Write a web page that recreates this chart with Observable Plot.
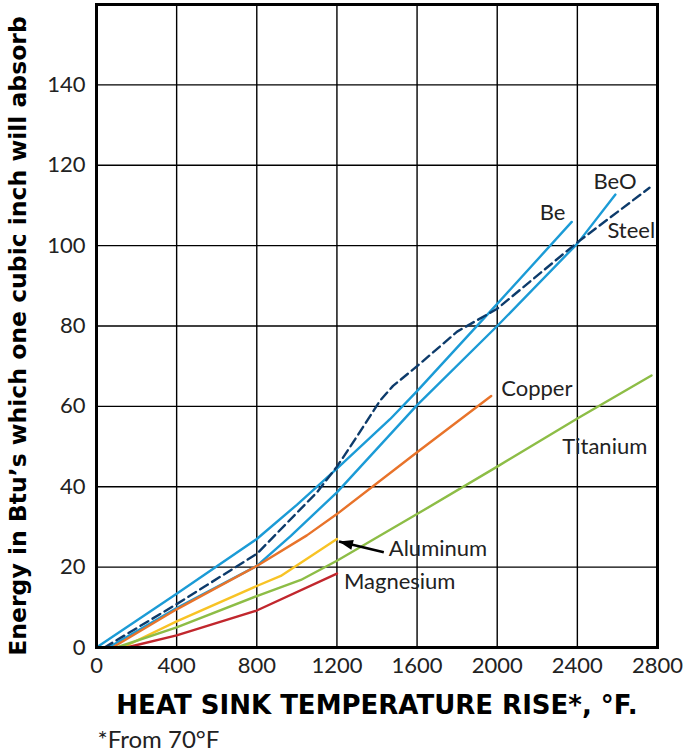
<!DOCTYPE html>
<html>
<head>
<meta charset="utf-8">
<script src="https://cdn.jsdelivr.net/npm/d3@7"></script>
<script src="https://cdn.jsdelivr.net/npm/@observablehq/plot@0.6"></script>
<style>
  body { margin: 0; background: #fff; }
  #chart svg { display: block; }
</style>
</head>
<body>
<div id="chart"></div>
<script>
// Temperature rise (°F) and energy absorbed (Btu per cubic inch) for each heat-sink material
const beRise = [0, 400, 800, 1000, 1200, 1465, 1600, 2000, 2372];
const beEnergy = [0, 13.4, 27, 35.5, 44.5, 56.8, 63.8, 85.5, 105.9];

const beoRise = [60, 400, 800, 970, 1200, 1600, 2000, 2400, 2590];
const beoEnergy = [0, 9.8, 20.3, 27.8, 38.6, 60.3, 80, 100.5, 112.7];

const steelRise = [40, 400, 800, 1100, 1200, 1300, 1415, 1480, 1600, 1800, 2000, 2400, 2760];
const steelEnergy = [0, 10.8, 23.3, 38.6, 45, 52.5, 61.4, 65.1, 70, 78.6, 84.3, 100.8, 114.4];

const copperRise = [80, 400, 800, 1050, 1200, 1600, 1970];
const copperEnergy = [0, 9.5, 20.3, 27.9, 33.2, 48.6, 62.6];

const aluminumRise = [130, 400, 800, 920, 1200];
const aluminumEnergy = [0, 6.5, 15.3, 17.8, 27];

const titaniumRise = [100, 400, 800, 1020, 1200, 1600, 2000, 2400, 2770];
const titaniumEnergy = [0, 5, 12.8, 16.8, 21.6, 33.2, 45, 57, 67.7];

const magnesiumRise = [150, 400, 800, 1200];
const magnesiumEnergy = [0, 3, 9.2, 18.4];

const xTicks = [0, 400, 800, 1200, 1600, 2000, 2400, 2800];
const yTicks = [0, 20, 40, 60, 80, 100, 120, 140];

// Series table built from the arrays above
const series = [
  {name: "Be", rise: beRise, energy: beEnergy, color: "#1b9bd6"},
  {name: "BeO", rise: beoRise, energy: beoEnergy, color: "#1b9bd6"},
  {name: "Steel", rise: steelRise, energy: steelEnergy, color: "#0d3b6b"},
  {name: "Copper", rise: copperRise, energy: copperEnergy, color: "#e8732a"},
  {name: "Aluminum", rise: aluminumRise, energy: aluminumEnergy, color: "#f8c325"},
  {name: "Titanium", rise: titaniumRise, energy: titaniumEnergy, color: "#8dbd46"},
  {name: "Magnesium", rise: magnesiumRise, energy: magnesiumEnergy, color: "#c1272d"}
];
const rows = series.flatMap(s => s.rise.map((t, i) => ({material: s.name, t, e: s.energy[i], color: s.color})));

// Curve labels, anchored at their left edge in data units
const labels = [
  {text: "BeO", t: 2480, e: 115.8},
  {text: "Be", t: 2212, e: 108.1},
  {text: "Steel", t: 2550, e: 103.6},
  {text: "Copper", t: 2020, e: 64.4},
  {text: "Titanium", t: 2325, e: 50.0},
  {text: "Aluminum", t: 1459, e: 24.6},
  {text: "Magnesium", t: 1235, e: 16.2}
];

// Pointer from the Aluminum label to the end of its curve
const pointer = [{t1: 1434, e1: 23.7, t2: 1210, e2: 26.4}];

// Narrow filled arrowhead whose tip sits at the symbol origin
const arrowHead = {
  draw(context, size) {
    const r = Math.sqrt(size / Math.PI);
    context.moveTo(0, 0);
    context.lineTo(-0.72 * r, 2 * r);
    context.lineTo(0.72 * r, 2 * r);
    context.closePath();
  }
};

const plain = d => String(d);

const chart = Plot.plot({
  width: 684,
  height: 754,
  marginLeft: 96,
  marginRight: 27,
  marginTop: 4,
  marginBottom: 107,
  style: {fontFamily: "Lato, sans-serif", fontSize: "22px", color: "#222", background: "#fff"},
  x: {domain: [0, 2800]},
  y: {domain: [0, 160]},
  marks: [
    Plot.gridX(xTicks, {stroke: "#000", strokeOpacity: 1, strokeWidth: 1.4}),
    Plot.gridY(yTicks, {stroke: "#000", strokeOpacity: 1, strokeWidth: 1.4}),
    Plot.line(rows.filter(d => d.material !== "Steel"), {
      x: "t", y: "e", z: "material", stroke: d => d.color, strokeWidth: 2.4
    }),
    Plot.line(rows.filter(d => d.material === "Steel"), {
      x: "t", y: "e", stroke: d => d.color, strokeWidth: 2.4, strokeDasharray: "9,5"
    }),
    Plot.frame({stroke: "#000", strokeWidth: 3}),
    Plot.axisX(xTicks, {tickSize: 0, tickPadding: 10, label: null, fill: "#222", tickFormat: plain}),
    Plot.axisY(yTicks, {tickSize: 0, tickPadding: 11, label: null, fill: "#222", tickFormat: plain}),
    Plot.text(labels, {
      x: "t", y: "e", text: "text", textAnchor: "start", lineAnchor: "middle",
      fontSize: 22, fill: "#222"
    }),
    Plot.link(pointer, {x1: "t1", y1: "e1", x2: "t2", y2: "e2", stroke: "#000", strokeWidth: 2.6}),
    Plot.dot(pointer, {x: "t2", y: "e2", r: 7, symbol: arrowHead, fill: "#000", stroke: null, rotate: -76}),
    Plot.text(["HEAT SINK TEMPERATURE RISE*, °F."], {
      frameAnchor: "bottom", textAnchor: "middle", dy: 66, fontFamily: "DejaVu Sans",
      fontWeight: "bold", fontSize: 26, fill: "#000"
    }),
    Plot.text(["*From 70°F"], {
      frameAnchor: "bottom-left", dy: 100, dx: 1, textAnchor: "start", fontSize: 24, fill: "#222"
    }),
    Plot.text(["Energy in Btu’s which one cubic inch will absorb"], {
      frameAnchor: "left", textAnchor: "middle", dx: -78, dy: 10, rotate: -90,
      fontFamily: "DejaVu Sans", fontWeight: "bold", fontSize: 23.5, fill: "#000"
    })
  ]
});

document.getElementById("chart").append(chart);
</script>
</body>
</html>
